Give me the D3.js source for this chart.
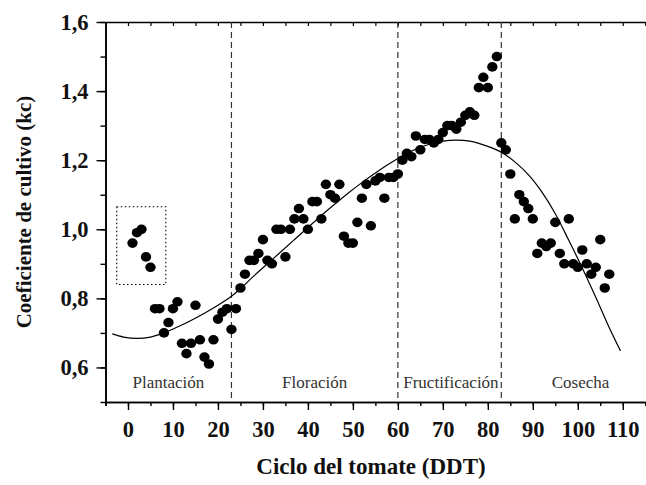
<!DOCTYPE html>
<html><head><meta charset="utf-8">
<script src="https://cdn.jsdelivr.net/npm/d3@7"></script>
<style>body{margin:0;background:#fff}svg{display:block}</style>
</head><body><svg id="c" width="646" height="485"></svg>
<script>
// ---- data ----
const obsDay = [1,2,3,4,5,6,7,8,9,10,11,12,13,14,15,16,17,18,19,20,21,22,23,24,25,26,27,28,29,30,
  31,32,33,34,35,36,37,38,39,40,41,42,43,44,45,46,47,48,49,50,51,52,53,54,55,56,57,58,59,60,
  61,62,63,64,65,66,67,68,69,70,71,72,73,74,75,76,77,78,79,80,81,82,83,84,85,86,87,88,89,90,
  91,92,93,94,95,96,97,98,99,100,101,102,103,104,105,106,107];
const obsKc = [0.96,0.99,1.00,0.92,0.89,0.77,0.77,0.70,0.73,0.77,0.79,0.67,0.64,0.67,0.78,0.68,0.63,0.61,0.68,0.74,
  0.76,0.77,0.71,0.77,0.83,0.87,0.91,0.91,0.93,0.97,0.91,0.90,1.00,1.00,0.92,1.00,1.03,1.06,1.03,1.00,
  1.08,1.08,1.03,1.13,1.10,1.09,1.13,0.98,0.96,0.96,1.02,1.09,1.13,1.01,1.14,1.15,1.09,1.15,1.15,1.16,
  1.20,1.22,1.21,1.27,1.23,1.26,1.26,1.25,1.26,1.28,1.30,1.30,1.29,1.31,1.33,1.34,1.33,1.41,1.44,1.41,
  1.47,1.50,1.25,1.23,1.16,1.03,1.10,1.08,1.06,1.03,0.93,0.96,0.95,0.96,1.02,0.93,0.90,1.03,0.90,0.89,
  0.94,0.90,0.87,0.89,0.97,0.83,0.87];
const fitDay = [-3.5,-1,2,5,8,11,14,17,20,23,25,28,31,34,37,40,43,46,49,52,55,58,61,64,67,70,73,76,80,83,86,89,92,95,98,101,104,107,109.5];
const fitKc  = [0.697,0.688,0.684,0.688,0.700,0.717,0.736,0.757,0.780,0.806,0.828,0.865,0.900,0.935,0.970,1.005,1.040,1.073,1.105,1.135,1.163,1.189,1.212,1.232,1.246,1.255,1.258,1.255,1.240,1.223,1.195,1.158,1.108,1.045,0.968,0.888,0.803,0.715,0.648];
const phaseBounds = [23, 60, 83];
const phaseNames = ["Plantación","Floración","Fructificación","Cosecha"];
const phaseLabelDay = [9, 41.5, 71.8, 100.6];
const boxX = [-2.5, 8.4];
const boxY = [0.84, 1.065];
const xTicks = [0,10,20,30,40,50,60,70,80,90,100,110];
const yTicks = [0.6,0.8,1.0,1.2,1.4,1.6];
const xTitle = "Ciclo del tomate (DDT)";
const yTitle = "Coeficiente de cultivo (kc)";

// ---- layout ----
const svg = d3.select("#c");
const L = 105.5, R = 647.5, T = 22, B = 402;
const x = d3.scaleLinear().domain([-5, 115.5]).range([L, R]);
const y = d3.scaleLinear().domain([0.5, 1.6]).range([B, T]);
const serif = "Liberation Serif";
const fmt = d => d3.format(".1f")(d).replace(".", ",");

// bottom axis
const minorX = d3.range(-5, 116, 5);
const gx = svg.append("g").attr("transform", `translate(0,${B})`);
gx.call(d3.axisBottom(x).tickValues(minorX).tickSize(4).tickFormat(""));
gx.append("g").call(d3.axisBottom(x).tickValues(xTicks).tickSize(8).tickSizeOuter(0).tickFormat(d3.format("d")).tickPadding(11));
gx.selectAll("path.domain").attr("stroke", "#000").attr("stroke-width", 1.6);
gx.selectAll("line").attr("stroke", "#000").attr("stroke-width", 1.4);
gx.selectAll("text").attr("font-family", serif).attr("font-weight", "bold").attr("font-size", 22.5).attr("fill", "#111");

// top frame
const gt = svg.append("g").attr("transform", `translate(0,${T})`);
gt.call(d3.axisTop(x).tickValues(minorX).tickSize(-4).tickSizeOuter(0).tickFormat(""));
gt.selectAll("path.domain").attr("stroke", "#000").attr("stroke-width", 1.6);
gt.selectAll("line").attr("stroke", "#000").attr("stroke-width", 1.2);

// left axis
const minorY = d3.range(0.5, 1.601, 0.1);
const gy = svg.append("g").attr("transform", `translate(${L},0)`);
gy.call(d3.axisLeft(y).tickValues(minorY).tickSize(5).tickSizeOuter(0).tickFormat(""));
gy.append("g").call(d3.axisLeft(y).tickValues(yTicks).tickSize(9).tickSizeOuter(0).tickFormat(fmt).tickPadding(8));
gy.selectAll("path.domain").attr("stroke", "#000").attr("stroke-width", 1.6);
gy.selectAll("line").attr("stroke", "#000").attr("stroke-width", 1.4);
gy.selectAll("text").attr("font-family", serif).attr("font-weight", "bold").attr("font-size", 22.5).attr("fill", "#111");

// phase boundaries
svg.append("g").selectAll("line").data(phaseBounds).join("line")
  .attr("x1", d => x(d)).attr("x2", d => x(d)).attr("y1", T).attr("y2", B)
  .attr("stroke", "#333").attr("stroke-width", 1.2).attr("stroke-dasharray", "6,4");

// phase labels
svg.append("g").selectAll("text").data(phaseNames).join("text")
  .attr("x", (d, i) => x(phaseLabelDay[i])).attr("y", 388)
  .attr("text-anchor", "middle").attr("font-family", serif).attr("font-size", 17).attr("fill", "#333")
  .text(d => d);

// dotted box
svg.append("rect")
  .attr("x", x(boxX[0])).attr("y", y(boxY[1]))
  .attr("width", x(boxX[1]) - x(boxX[0])).attr("height", y(boxY[0]) - y(boxY[1]))
  .attr("fill", "none").attr("stroke", "#000").attr("stroke-width", 1.1).attr("stroke-dasharray", "1.5,2.5");

// fitted curve
const line = d3.line().x(d => x(d[0])).y(d => y(d[1])).curve(d3.curveCatmullRom);
svg.append("path").datum(fitDay.map((d, i) => [d, fitKc[i]]))
  .attr("d", line).attr("fill", "none").attr("stroke", "#000").attr("stroke-width", 1.2);

// observations
svg.append("g").selectAll("ellipse").data(obsDay).join("ellipse")
  .attr("cx", d => x(d)).attr("cy", (d, i) => y(obsKc[i])).attr("rx", 5.2).attr("ry", 4.8).attr("fill", "#000");

// titles
svg.append("text").attr("x", 371).attr("y", 474).attr("text-anchor", "middle")
  .attr("font-family", serif).attr("font-weight", "bold").attr("font-size", 23).attr("fill", "#111").text(xTitle);
svg.append("text").attr("transform", "translate(31,212) rotate(-90)").attr("text-anchor", "middle")
  .attr("font-family", serif).attr("font-weight", "bold").attr("font-size", 21).attr("fill", "#111").text(yTitle);
</script></body></html>
